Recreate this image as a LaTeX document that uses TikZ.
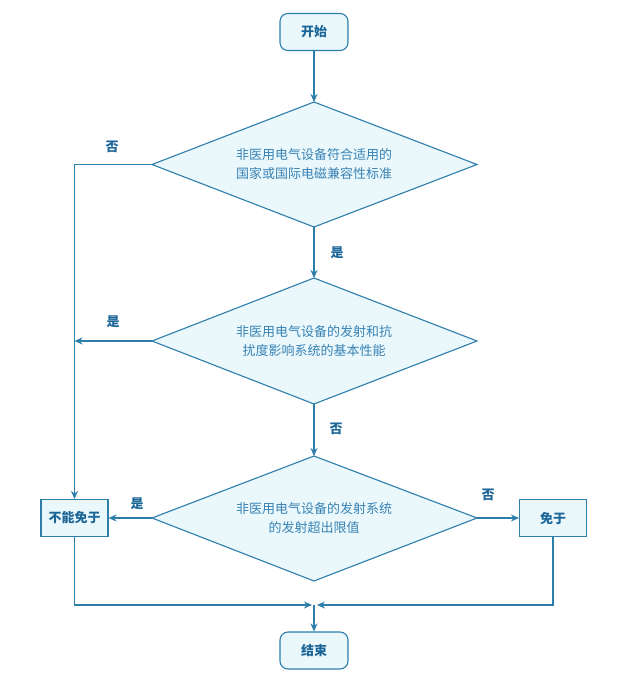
\documentclass[tikz,border=0pt]{standalone}
\usepackage{fontspec}
\setmainfont{Noto Sans CJK SC}
\usetikzlibrary{arrows.meta}
\definecolor{ln}{RGB}{46,126,172}
\definecolor{fl}{RGB}{234,248,252}
\definecolor{tx}{RGB}{56,130,180}
\definecolor{lb}{RGB}{28,102,152}
\tikzset{
  arr/.style={draw=ln,line width=1.1pt,-{Stealth[length=8pt,width=7pt]}},
  term/.style={draw=ln,fill=fl,line width=1.1pt,rounded corners=8pt,minimum width=68pt,minimum height=37pt,inner sep=0pt,text=lb,font=\fontsize{13}{16}\selectfont\bfseries},
  proc/.style={draw=ln,fill=fl,line width=1.1pt,minimum width=67pt,minimum height=37pt,inner sep=0pt,text=lb,font=\fontsize{13}{16}\selectfont\bfseries},
  dshape/.style={draw=ln,fill=fl,line width=1.1pt,line join=miter},
  dtext/.style={text=tx,align=center,inner sep=0pt,font=\fontsize{13}{19}\selectfont},
  lab/.style={text=lb,font=\fontsize{13}{16}\selectfont\bfseries,inner sep=0pt}
}
\begin{document}
\begin{tikzpicture}[x=1pt,y=-1pt]
\useasboundingbox[fill=white] (0,0) rectangle (631,677);
% diamond 1
\coordinate (d1t) at (314,102);
\coordinate (d1b) at (314,227);
\coordinate (d1l) at (152,164.5);
\coordinate (d1r) at (477,164.5);
\draw[dshape] (d1t) -- (d1r) -- (d1b) -- (d1l) -- cycle;
\node[dtext] (d1) at (314,164.5) {非医用电气设备符合适用的\\国家或国际电磁兼容性标准};
% diamond 2
\coordinate (d2t) at (314,278);
\coordinate (d2b) at (314,404);
\coordinate (d2l) at (152,341);
\coordinate (d2r) at (477,341);
\draw[dshape] (d2t) -- (d2r) -- (d2b) -- (d2l) -- cycle;
\node[dtext] (d2) at (314,341) {非医用电气设备的发射和抗\\扰度影响系统的基本性能};
% diamond 3
\coordinate (d3t) at (314,456);
\coordinate (d3b) at (314,581);
\coordinate (d3l) at (152,518);
\coordinate (d3r) at (477,518);
\draw[dshape] (d3t) -- (d3r) -- (d3b) -- (d3l) -- cycle;
\node[dtext] (d3) at (314,518) {非医用电气设备的发射系统\\的发射超出限值};
\node[term] (start) at (314,32) {开始};
\node[proc] (nm) at (74.5,518) {不能免于};
\node[proc] (my) at (553,518) {免于};
\node[term] (end) at (314,650.5) {结束};
\coordinate (mL) at (312,605);
\coordinate (mR) at (317,605);
\coordinate (mC) at (314,605);
\draw[arr] (start) -- (d1t);
\draw[arr] (d1l) -| (nm.north);
\draw[arr] (d1b) -- (d2t);
\draw[arr] (d2l) -- (d2l -| nm.north);
\draw[arr] (d2b) -- (d3t);
\draw[arr] (d3l) -- (nm.east);
\draw[arr] (d3r) -- (my.west);
\draw[arr] (nm.south) |- (mL);
\draw[arr] (my.south) |- (mR);
\draw[arr] (mC) -- (end.north);
\node[lab] (l1) at (112,147) {否};
\node[lab] (l2) at (337,253) {是};
\node[lab] (l3) at (113,322) {是};
\node[lab] (l4) at (336,429) {否};
\node[lab] (l5) at (137,504) {是};
\node[lab] (l6) at (488,495) {否};
\end{tikzpicture}
\end{document}
